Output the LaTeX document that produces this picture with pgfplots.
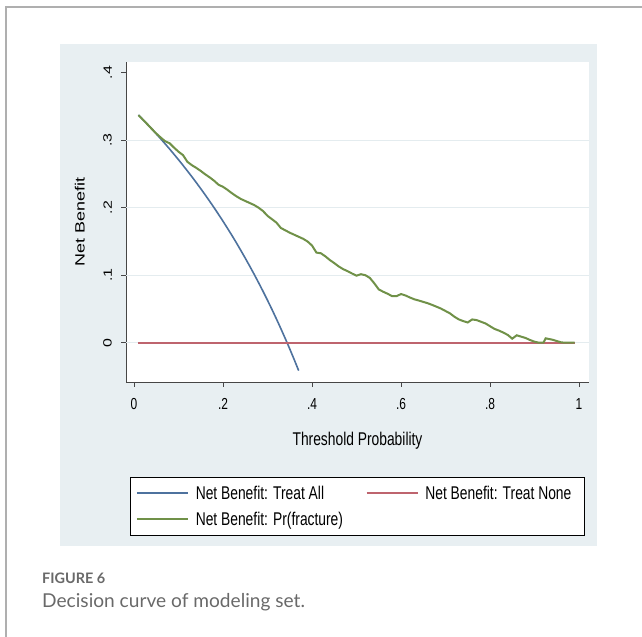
\documentclass[border=0pt]{standalone}
\usepackage{fontspec}
\usepackage{graphicx}
\usepackage{pgfplots}
\pgfplotsset{compat=1.18}
\setmainfont{Liberation Sans}[FakeStretch=0.75]
\newfontfamily\rotfont{Liberation Sans}
\newfontfamily\capfont{Lato}
\newcommand\vsq[1]{\scalebox{1}[0.75]{\rotfont #1}}
\definecolor{bgcol}{RGB}{232,239,242}
\definecolor{gridcol}{RGB}{228,236,239}
\definecolor{framegray}{RGB}{175,175,175}
\definecolor{axisgray}{RGB}{70,70,70}
\definecolor{capgray}{RGB}{105,105,105}
\definecolor{lblue}{RGB}{78,114,158}
\definecolor{lred}{RGB}{190,100,110}
\definecolor{lgreen}{RGB}{112,145,72}
\begin{document}
\begin{tikzpicture}[x=1bp,y=1bp]
\path[use as bounding box] (0bp,0bp) rectangle (642bp,637bp);
\draw[framegray, line width=1.5bp] (6bp,0bp) -- (6bp,630bp) -- (642bp,630bp);
\fill[bgcol] (60bp,91bp) rectangle (597bp,593bp);
\fill[white] (130bp,102bp) rectangle (584bp,160bp);
\begin{axis}[
  at={(126bp,255bp)}, anchor=south west,
  scale only axis, width=463bp, height=320bp,
  xmin=-0.018, xmax=1.0225, ymin=-0.0582, ymax=0.4159,
  axis x line*=bottom, axis y line*=left,
  axis line style={draw=axisgray, line width=0.9bp},
  axis background/.style={fill=white},
  tick align=outside, major tick length=5bp,
  tick style={draw=axisgray, line width=0.9bp},
  xtick={0,0.2,0.4,0.6,0.8,1}, xticklabels={0,.2,.4,.6,.8,1},
  ytick={0,0.1,0.2,0.3,0.4},
  yticklabels={\vsq{0},\vsq{.1},\vsq{.2},\vsq{.3},\vsq{.4}},
  xticklabel style={font=\fontsize{16}{16}\selectfont, anchor=north, inner sep=0pt},
  xticklabel shift=11bp,
  yticklabel style={font=\fontsize{16}{16}\selectfont, rotate=90, anchor=south, inner sep=0pt},
  yticklabel shift=9bp,
  xlabel={Threshold Probability},
  xlabel style={font=\fontsize{18.5}{18.5}\selectfont, at={(axis description cs:0.5,-0.197)}, anchor=base, inner sep=0pt},
  ylabel={\fontsize{18}{18}\selectfont\vsq{Net Benefit}},
  ylabel style={at={(axis description cs:-0.1,0.5)}, anchor=center, inner sep=0pt},
  legend columns=2, legend cell align=left,
  legend style={at={(axis description cs:0.00864,-0.2969)}, anchor=north west,
    draw=none, fill=none, inner xsep=6bp, inner ysep=3bp,
    column sep=0pt, row sep=0pt, font=\fontsize{18.5}{18.5}\selectfont,
    nodes={inner sep=0pt, text height=19.5bp, text depth=6.5bp}},
  legend image code/.code={\draw[#1, line width=1.6bp] (0bp,0bp) -- (51bp,0bp);},
]
\pgfplotsinvokeforeach{0,0.1,0.2,0.3}{\draw[gridcol, line width=1bp] (-0.018,#1) -- (1.0225,#1);}
\addplot[color=lblue, draw=lblue, line width=1.6bp] coordinates {
(0.01,0.3374) (0.02,0.3306) (0.03,0.3237) (0.04,0.3167) (0.05,0.3095)
(0.06,0.3021) (0.07,0.2946) (0.08,0.2870) (0.09,0.2791) (0.10,0.2711)
(0.11,0.2629) (0.12,0.2545) (0.13,0.2460) (0.14,0.2372) (0.15,0.2282)
(0.16,0.2190) (0.17,0.2096) (0.18,0.2000) (0.19,0.1901) (0.20,0.1800)
(0.21,0.1696) (0.22,0.1590) (0.23,0.1481) (0.24,0.1368) (0.25,0.1253)
(0.26,0.1135) (0.27,0.1014) (0.28,0.0889) (0.29,0.0761) (0.30,0.0629)
(0.31,0.0493) (0.32,0.0353) (0.33,0.0209) (0.34,0.0061) (0.35,-0.0092)
(0.36,-0.0250) (0.37,-0.0413)};
\addlegendentry{\hspace{7bp}\makebox[170bp][l]{Net Benefit: Treat All}}
\addplot[color=lred, draw=lred, line width=2bp] coordinates {(0.01,0) (0.99,0)};
\addlegendentry{\hspace{7bp}\makebox[150bp][l]{Net Benefit: Treat None}}
\addplot[color=lgreen, draw=lgreen, line width=2bp] coordinates {
(0.01,0.3370) (0.02,0.3306) (0.03,0.3237) (0.04,0.3167) (0.05,0.3100)
(0.06,0.3040) (0.07,0.2985) (0.08,0.2955) (0.09,0.2890) (0.10,0.2830)
(0.11,0.2780) (0.12,0.2680) (0.13,0.2630) (0.14,0.2590) (0.15,0.2545)
(0.16,0.2495) (0.17,0.2450) (0.18,0.2400) (0.19,0.2340) (0.20,0.2310)
(0.21,0.2265) (0.22,0.2215) (0.23,0.2170) (0.24,0.2130) (0.25,0.2100)
(0.26,0.2070) (0.27,0.2040) (0.28,0.2000) (0.29,0.1950) (0.30,0.1880)
(0.31,0.1830) (0.32,0.1780) (0.33,0.1700) (0.34,0.1665) (0.35,0.1630)
(0.36,0.1600) (0.37,0.1570) (0.38,0.1540) (0.39,0.1500) (0.40,0.1440)
(0.41,0.1335) (0.42,0.1325) (0.43,0.1280) (0.44,0.1225) (0.45,0.1180)
(0.46,0.1130) (0.47,0.1090) (0.48,0.1060) (0.49,0.1025) (0.50,0.0993)
(0.51,0.1015) (0.52,0.1000) (0.53,0.0960) (0.54,0.0880) (0.55,0.0790)
(0.56,0.0755) (0.57,0.0725) (0.58,0.0690) (0.59,0.0690) (0.60,0.0721)
(0.61,0.0700) (0.62,0.0670) (0.63,0.0643) (0.64,0.0625) (0.65,0.0605)
(0.66,0.0585) (0.67,0.0560) (0.68,0.0533) (0.69,0.0505) (0.70,0.0470)
(0.71,0.0435) (0.72,0.0385) (0.73,0.0345) (0.74,0.0320) (0.75,0.0300)
(0.76,0.0345) (0.77,0.0335) (0.78,0.0310) (0.79,0.0285) (0.80,0.0245)
(0.81,0.0205) (0.82,0.0180) (0.83,0.0150) (0.84,0.0115) (0.85,0.0060)
(0.86,0.0110) (0.87,0.0090) (0.88,0.0070) (0.89,0.0040) (0.90,0.0015)
(0.91,0.0000) (0.92,0.0000) (0.925,0.0065) (0.94,0.0045) (0.95,0.0025)
(0.96,0.0005) (0.97,0.0000) (0.98,0.0000) (0.99,0.0000)};
\addlegendentry{\hspace{7bp}\makebox[170bp][l]{Net Benefit: Pr(fracture)}}
\end{axis}
\draw[black, line width=0.9bp] (130bp,102bp) rectangle (584bp,160bp);
\node[anchor=base west, inner sep=0pt, text=capgray] at (42bp,53bp) {\capfont\bfseries\fontsize{14.5}{14.5}\selectfont FIGURE 6};
\node[anchor=base west, inner sep=0pt, text=capgray] at (42bp,30bp) {\capfont\fontsize{19.2}{19.2}\selectfont Decision curve of modeling set.};
\end{tikzpicture}
\end{document}
